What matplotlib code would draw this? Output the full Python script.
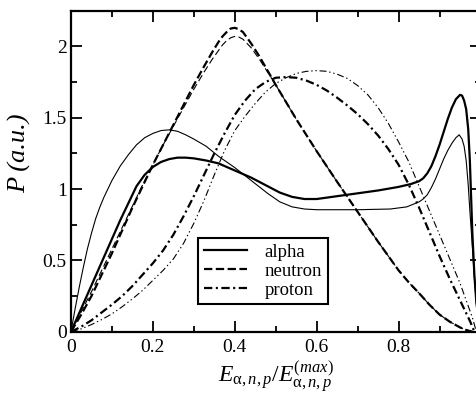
import matplotlib
matplotlib.use("Agg")
import matplotlib.pyplot as plt

plt.rcParams['font.family'] = ['Liberation Serif', 'DejaVu Serif']
plt.rcParams['mathtext.fontset'] = 'custom'
plt.rcParams['mathtext.rm'] = 'Liberation Serif'
plt.rcParams['mathtext.it'] = 'Liberation Serif:italic'
plt.rcParams['lines.scale_dashes'] = False

# alpha (thick, thin)
alpha_thick_x = [0, 0.02, 0.04, 0.06, 0.08, 0.1, 0.12, 0.14, 0.16, 0.18, 0.2, 0.22, 0.24, 0.26, 0.28,
                 0.3, 0.33, 0.36, 0.4, 0.44, 0.48, 0.51, 0.54, 0.57, 0.6, 0.65, 0.7, 0.75, 0.8, 0.83,
                 0.85, 0.86, 0.87, 0.88, 0.89, 0.9, 0.91, 0.92, 0.93, 0.94, 0.95, 0.955, 0.96, 0.965,
                 0.97, 0.974, 0.977, 0.98, 0.985, 0.99, 1.0]
alpha_thick_y = [0, 0.13, 0.26, 0.39, 0.52, 0.65, 0.78, 0.9, 1.02, 1.1, 1.155, 1.19, 1.21, 1.22, 1.22,
                 1.215, 1.2, 1.18, 1.13, 1.08, 1.02, 0.975, 0.945, 0.93, 0.93, 0.95, 0.97, 0.99, 1.015, 1.035,
                 1.055, 1.075, 1.11, 1.16, 1.23, 1.31, 1.4, 1.49, 1.57, 1.63, 1.66, 1.655, 1.62, 1.56,
                 1.42, 1.2, 0.95, 0.7, 0.4, 0.2, 0.0]
alpha_thin_x = [0, 0.01, 0.02, 0.03, 0.04, 0.05, 0.06, 0.07, 0.08, 0.09, 0.1, 0.12, 0.14, 0.16, 0.18,
                0.2, 0.22, 0.24, 0.26, 0.28, 0.3, 0.33, 0.36, 0.4, 0.44, 0.48, 0.51, 0.54, 0.57, 0.6,
                0.7, 0.78, 0.82, 0.85, 0.86, 0.87, 0.88, 0.89, 0.9, 0.91, 0.92, 0.93, 0.94, 0.948,
                0.955, 0.96, 0.965, 0.97, 0.974, 0.98, 0.985, 0.99, 1.0]
alpha_thin_y = [0, 0.16, 0.31, 0.45, 0.58, 0.69, 0.79, 0.87, 0.94, 1.0, 1.06, 1.16, 1.24, 1.31, 1.36,
                1.39, 1.41, 1.415, 1.405, 1.38, 1.35, 1.3, 1.23, 1.15, 1.06, 0.97, 0.91, 0.875, 0.86, 0.855,
                0.855, 0.86, 0.875, 0.91, 0.93, 0.96, 1.01, 1.07, 1.14, 1.21, 1.27, 1.32, 1.36, 1.38,
                1.35, 1.3, 1.2, 1.03, 0.85, 0.6, 0.38, 0.2, 0.0]

# neutron (thick, thin)
neutron_thick_x = [0, 0.025, 0.05, 0.075, 0.1, 0.125, 0.15, 0.175, 0.2, 0.225, 0.25, 0.275, 0.3,
                   0.325, 0.345, 0.36, 0.37, 0.38, 0.39, 0.4, 0.41, 0.42, 0.43, 0.44, 0.46, 0.48,
                   0.5, 0.55, 0.6, 0.65, 0.7, 0.75, 0.8, 0.825, 0.85, 0.875, 0.9, 0.925, 0.95,
                   0.965, 0.98]
neutron_thick_y = [0, 0.12, 0.25, 0.4, 0.55, 0.71, 0.87, 1.02, 1.17, 1.31, 1.45, 1.59, 1.73,
                   1.86, 1.96, 2.03, 2.07, 2.1, 2.125, 2.13, 2.12, 2.1, 2.06, 2.02, 1.93, 1.83,
                   1.73, 1.49, 1.265, 1.05, 0.84, 0.63, 0.43, 0.345, 0.27, 0.19, 0.12, 0.07, 0.03,
                   0.012, 0.0]
neutron_thin_x = [0, 0.025, 0.05, 0.075, 0.1, 0.125, 0.15, 0.175, 0.2, 0.225, 0.25, 0.275, 0.3,
                  0.325, 0.345, 0.36, 0.37, 0.38, 0.39, 0.4, 0.41, 0.42, 0.43, 0.44, 0.46, 0.48,
                  0.5, 0.55, 0.6, 0.65, 0.7, 0.75, 0.8, 0.825, 0.85, 0.875, 0.9, 0.925, 0.95,
                  0.965, 0.98]
neutron_thin_y = [0, 0.14, 0.28, 0.43, 0.58, 0.73, 0.88, 1.03, 1.17, 1.31, 1.44, 1.57, 1.7,
                  1.82, 1.91, 1.97, 2.01, 2.04, 2.06, 2.07, 2.065, 2.05, 2.02, 1.99, 1.91, 1.82,
                  1.73, 1.49, 1.265, 1.05, 0.84, 0.63, 0.43, 0.345, 0.27, 0.19, 0.12, 0.07, 0.03,
                  0.012, 0.0]

# proton (thick, thin)
proton_thick_x = [0, 0.025, 0.05, 0.075, 0.1, 0.125, 0.15, 0.175, 0.2, 0.225, 0.25, 0.275, 0.3,
                  0.325, 0.35, 0.375, 0.4, 0.425, 0.45, 0.475, 0.5, 0.525, 0.55, 0.575, 0.6, 0.625,
                  0.65, 0.675, 0.7, 0.725, 0.75, 0.775, 0.8, 0.825, 0.85, 0.875, 0.9, 0.925, 0.95,
                  0.965, 0.975, 0.985]
proton_thick_y = [0, 0.035, 0.08, 0.135, 0.19, 0.25, 0.32, 0.4, 0.48, 0.57, 0.68, 0.81, 0.95,
                  1.1, 1.25, 1.39, 1.52, 1.62, 1.7, 1.75, 1.78, 1.785, 1.78, 1.76, 1.73, 1.69,
                  1.64, 1.585, 1.525, 1.455, 1.375, 1.28, 1.17, 1.03, 0.87, 0.7, 0.53, 0.37, 0.22,
                  0.13, 0.07, 0.0]
proton_thin_x = [0, 0.025, 0.05, 0.075, 0.1, 0.125, 0.15, 0.175, 0.2, 0.225, 0.25, 0.275, 0.3,
                 0.325, 0.35, 0.375, 0.4, 0.425, 0.45, 0.475, 0.5, 0.525, 0.55, 0.575, 0.6, 0.625,
                 0.65, 0.675, 0.7, 0.725, 0.75, 0.775, 0.8, 0.825, 0.85, 0.875, 0.9, 0.925, 0.95,
                 0.965, 0.98, 0.99]
proton_thin_y = [0, 0.02, 0.05, 0.085, 0.125, 0.175, 0.23, 0.29, 0.36, 0.43, 0.51, 0.62, 0.76,
                 0.92, 1.1, 1.27, 1.41, 1.51, 1.6, 1.68, 1.74, 1.78, 1.81, 1.825, 1.83, 1.825,
                 1.805, 1.775, 1.725, 1.66, 1.57, 1.46, 1.33, 1.19, 1.02, 0.85, 0.68, 0.51, 0.34,
                 0.22, 0.1, 0.0]

labels = ['alpha', 'neutron', 'proton']
x_ticks = [0, 0.2, 0.4, 0.6, 0.8]
x_tick_labels = ['0', '0.2', '0.4', '0.6', '0.8']
y_ticks = [0, 0.5, 1, 1.5, 2]
y_tick_labels = ['0', '0.5', '1', '1.5', '2']

fig = plt.figure(figsize=(4.76, 3.95), dpi=100)
ax = fig.add_axes([71 / 476, (395 - 331.7) / 395, 409.5 / 476, 321 / 395])

thick = 1.6
thin = 0.8
ax.plot(alpha_thick_x, alpha_thick_y, color='black', lw=thick, label=labels[0])
ax.plot(neutron_thick_x, neutron_thick_y, color='black', lw=thick, dashes=(6, 2.5), label=labels[1])
ax.plot(proton_thick_x, proton_thick_y, color='black', lw=thick, dashes=(6, 2.5, 1.5, 2.5), label=labels[2])
ax.plot(alpha_thin_x, alpha_thin_y, color='black', lw=thin)
ax.plot(neutron_thin_x, neutron_thin_y, color='black', lw=thin, dashes=(5, 2.5))
ax.plot(proton_thin_x, proton_thin_y, color='black', lw=thin, dashes=(5, 2, 1, 2, 1, 2))

ax.set_xlim(0, 1)
ax.set_ylim(0, 2.25)
ax.set_xticks(x_ticks)
ax.set_xticklabels(x_tick_labels)
ax.set_yticks(y_ticks)
ax.set_yticklabels(y_tick_labels)
ax.set_xticks([0.1, 0.3, 0.5, 0.7, 0.9], minor=True)
ax.set_yticks([0.25, 0.75, 1.25, 1.75, 2.25], minor=True)
ax.tick_params(which='both', direction='in', top=True, right=True, width=1.3, labelsize=14)
ax.tick_params(which='major', length=8)
ax.tick_params(which='minor', length=4)
ax.tick_params(axis='x', pad=5)
ax.tick_params(axis='y', pad=3)
for s in ax.spines.values():
    s.set_linewidth(1.6)

ax.set_xlabel(r'$E_{\mathrm{\alpha},n,p}/E_{\mathrm{\alpha},n,p}^{(max)}$', fontsize=17)
ax.xaxis.set_label_coords(0.5, -0.088)
ax.set_ylabel('P (a.u.)', fontstyle='italic', fontsize=19)
ax.yaxis.set_label_coords(-0.098, 0.555)

leg = ax.legend(loc='upper left', bbox_to_anchor=(0.31, 0.292), borderaxespad=0,
                fancybox=False, edgecolor='black', fontsize=13.5, handlelength=2.3,
                handletextpad=0.95, borderpad=0.3, labelspacing=0.1, framealpha=1)
leg.get_frame().set_linewidth(1.5)

fig.savefig('out.png', dpi=100)
